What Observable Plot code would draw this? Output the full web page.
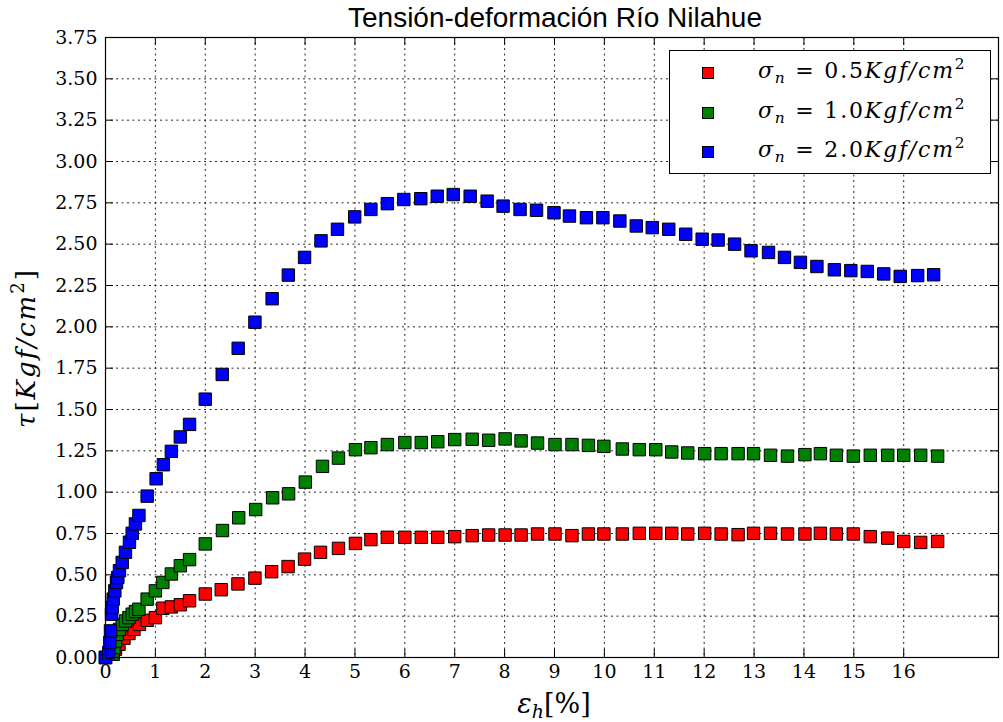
<!DOCTYPE html>
<html><head><meta charset="utf-8">
<script src="https://cdn.jsdelivr.net/npm/d3@7"></script>
<script src="https://cdn.jsdelivr.net/npm/@observablehq/plot@0.6"></script>
<style>
body{margin:0;background:#fff}
#wrap{position:relative;width:1003px;height:722px;overflow:hidden;background:#fff}
.ov{position:absolute;white-space:nowrap;color:#000}
#title{left:555px;top:18px;transform:translate(-50%,-50%);font-family:"Liberation Sans",Arial,sans-serif;font-size:28px}
#ylab{left:26px;top:348px;transform:translate(-50%,-50%) rotate(-90deg);font-family:"DejaVu Serif",serif;font-size:26px;letter-spacing:2px}
#xlab{left:554px;top:703px;transform:translate(-50%,-50%);font-family:"DejaVu Serif",serif;font-size:27px}
#legend{left:669px;top:50px;width:322px;height:124px;border:1px solid #000;background:#fff;box-sizing:border-box}
.lrow{position:absolute;left:0;height:40px;width:100%}
.lsq{position:absolute;left:32px;top:14px;width:12px;height:12px;border:1px solid #000;box-sizing:border-box}
.ltx{position:absolute;left:88px;top:3px;font-family:"DejaVu Serif",serif;font-size:22px;letter-spacing:1.8px;line-height:30px}
sub{font-size:70%;vertical-align:-0.3em;line-height:0}
sup{font-size:70%;vertical-align:0.6em;line-height:0}
</style></head><body><div id="wrap"></div><script>
// ---- data ----
const seriesNames = ["0.5", "1.0", "2.0"];
const seriesColors = ["#ff0000", "#008000", "#0000ff"];
const xTicks = [0,1,2,3,4,5,6,7,8,9,10,11,12,13,14,15,16];
const yTicks = [0,0.25,0.5,0.75,1,1.25,1.5,1.75,2,2.25,2.5,2.75,3,3.25,3.5,3.75];
const xMax = 17.9, yMax = 3.75;

const redStrain = [0,0.15,0.20,0.27,0.37,0.47,0.57,0.68,0.835,1.0,1.15,1.32,1.50,1.685,2.0,2.32,2.655,2.995,3.33,3.66,3.99,4.31,4.67,5.01,5.32,5.65,6.0,6.33,6.66,7.0,7.35,7.68,8.01,8.33,8.66,9.01,9.35,9.68,9.99,10.36,10.70,11.03,11.35,11.67,12.01,12.34,12.68,12.99,13.33,13.67,14.02,14.33,14.65,14.99,15.33,15.68,16.0,16.34,16.68];
const redStress = [0,0.02,0.05,0.08,0.117,0.145,0.17,0.20,0.225,0.241,0.298,0.306,0.319,0.343,0.384,0.41,0.445,0.48,0.519,0.55,0.595,0.636,0.66,0.69,0.713,0.727,0.727,0.727,0.727,0.731,0.737,0.741,0.741,0.741,0.747,0.747,0.737,0.747,0.747,0.747,0.751,0.751,0.751,0.747,0.751,0.747,0.743,0.751,0.751,0.747,0.747,0.751,0.747,0.747,0.731,0.722,0.702,0.696,0.702];

const greenStrain = [0,0.15,0.17,0.20,0.23,0.28,0.335,0.40,0.47,0.535,0.60,0.67,0.835,1.0,1.15,1.32,1.50,1.685,2.0,2.345,2.67,3.01,3.35,3.67,4.005,4.35,4.67,5.01,5.32,5.65,6.0,6.33,6.66,7.0,7.35,7.68,8.01,8.33,8.66,9.01,9.35,9.68,9.99,10.36,10.70,11.03,11.35,11.67,12.01,12.34,12.68,12.99,13.33,13.67,14.02,14.33,14.65,14.99,15.33,15.68,16.0,16.34,16.68];
const greenStress = [0,0.02,0.06,0.10,0.14,0.17,0.20,0.221,0.241,0.262,0.278,0.292,0.353,0.403,0.454,0.505,0.555,0.592,0.687,0.768,0.845,0.895,0.966,0.99,1.061,1.156,1.206,1.257,1.269,1.288,1.30,1.30,1.305,1.318,1.32,1.314,1.322,1.31,1.297,1.288,1.288,1.283,1.277,1.261,1.257,1.257,1.243,1.237,1.233,1.233,1.233,1.233,1.223,1.218,1.227,1.233,1.223,1.218,1.223,1.223,1.223,1.223,1.218];

const blueStrain = [0,0.066,0.086,0.10,0.12,0.134,0.154,0.187,0.22,0.247,0.28,0.335,0.40,0.48,0.535,0.60,0.67,0.835,1.015,1.16,1.32,1.50,1.685,2.0,2.34,2.66,2.995,3.34,3.665,3.99,4.32,4.65,4.995,5.32,5.65,5.98,6.32,6.65,6.97,7.31,7.65,7.97,8.31,8.64,8.99,9.30,9.64,9.97,10.31,10.64,10.96,11.29,11.63,11.96,12.28,12.61,12.94,13.29,13.61,13.93,14.26,14.61,14.94,15.27,15.60,15.93,16.28,16.60];
const blueStress = [0,0.03,0.09,0.161,0.262,0.302,0.353,0.403,0.454,0.484,0.525,0.575,0.636,0.697,0.751,0.808,0.859,0.976,1.081,1.166,1.247,1.334,1.41,1.5625,1.712,1.87,2.028,2.17,2.313,2.42,2.52,2.59,2.665,2.71,2.745,2.77,2.775,2.79,2.80,2.79,2.76,2.73,2.71,2.705,2.69,2.67,2.66,2.66,2.64,2.61,2.60,2.59,2.56,2.53,2.525,2.50,2.46,2.45,2.42,2.39,2.365,2.345,2.34,2.335,2.32,2.305,2.31,2.315];

const titleText = "Tensión-deformación Río Nilahue";

// ---- build table ----
const strains = [redStrain, greenStrain, blueStrain];
const stresses = [redStress, greenStress, blueStress];
const rows = [];
seriesNames.forEach((s, i) => strains[i].forEach((x, j) => rows.push({series: s, strain: x, stress: stresses[i][j]})));

// ---- layout ----
const W = 1003, H = 722, mL = 105, mR = 5, mT = 37, mB = 65;
const innerW = W - mL - mR, innerH = H - mT - mB, tk = 8;

const chart = Plot.plot({
  width: W, height: H,
  marginLeft: mL, marginRight: mR, marginTop: mT, marginBottom: mB,
  style: {fontFamily: "'DejaVu Serif', serif", fontSize: "19px", color: "black", background: "white"},
  x: {domain: [0, xMax]},
  y: {domain: [0, yMax]},
  color: {domain: seriesNames, range: seriesColors},
  marks: [
    Plot.gridX(xTicks.filter(d => d > 0), {stroke: "black", strokeOpacity: 0.85, strokeDasharray: "2,3.5"}),
    Plot.gridY(yTicks.filter(d => d > 0 && d < yMax), {stroke: "black", strokeOpacity: 0.85, strokeDasharray: "2,3.5"}),
    Plot.tickX(xTicks, {x: d => d, stroke: "black", insetBottom: innerH - tk}),
    Plot.tickX(xTicks, {x: d => d, stroke: "black", insetTop: innerH - tk}),
    Plot.tickY(yTicks, {y: d => d, stroke: "black", insetRight: innerW - tk}),
    Plot.tickY(yTicks, {y: d => d, stroke: "black", insetLeft: innerW - tk}),
    Plot.axisX(xTicks, {tickSize: 0, tickPadding: 7, label: null, fontSize: 19, tickFormat: d => String(d)}),
    Plot.axisY(yTicks, {tickSize: 0, tickPadding: 8, label: null, fontSize: 19, tickFormat: d3.format(".2f")}),
    Plot.dot(rows, {x: "strain", y: "stress", fill: "series", stroke: "black", strokeWidth: 1, symbol: "square", r: 7}),
    Plot.frame({stroke: "black", strokeWidth: 1.2})
  ]
});

const wrap = document.getElementById("wrap");
wrap.appendChild(chart);

function addDiv(id, html) {
  const d = document.createElement("div");
  d.className = "ov"; d.id = id; d.innerHTML = html;
  wrap.appendChild(d); return d;
}
addDiv("title", titleText);
addDiv("ylab", "<i>τ</i>[<i>Kgf/cm</i><sup>2</sup>]");
addDiv("xlab", "<i>ε</i><sub><i>h</i></sub>[%]");
const leg = addDiv("legend", "");
seriesNames.forEach((s, i) => {
  const r = document.createElement("div");
  r.className = "lrow"; r.style.top = (2 + i * 39.5) + "px";
  r.innerHTML = `<div class="lsq" style="background:${seriesColors[i]}"></div>` +
    `<div class="ltx"><i>σ</i><sub><i>n</i></sub> = ${s}<i>Kgf/cm</i><sup>2</sup></div>`;
  leg.appendChild(r);
});
</script></body></html>
